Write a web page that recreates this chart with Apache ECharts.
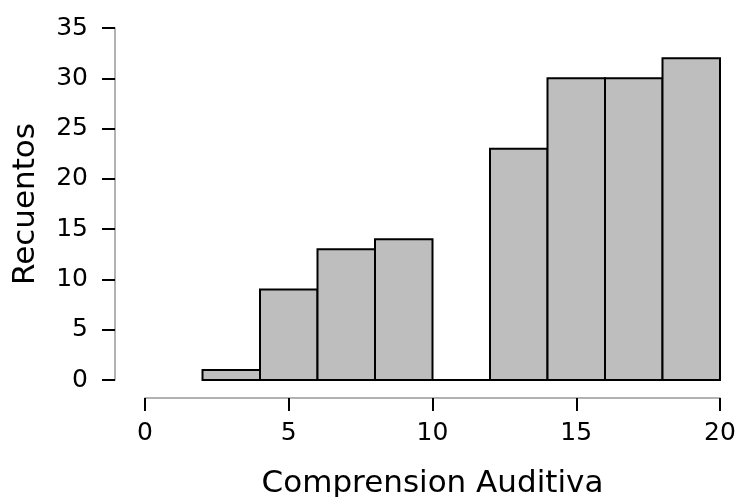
<!DOCTYPE html>
<html>
<head>
<meta charset="utf-8">
<script src="https://cdn.jsdelivr.net/npm/echarts@6/dist/echarts.min.js"></script>
<style>html,body{margin:0;padding:0;background:#fff}#c{width:739px;height:497px}</style>
</head>
<body>
<div id="c"></div>
<script>
var binStarts = [2, 4, 6, 8, 10, 12, 14, 16, 18];
var binEnds   = [4, 6, 8, 10, 12, 14, 16, 18, 20];
var counts    = [1, 9, 13, 14, 0, 23, 30, 30, 32];
var xTicks = [0, 5, 10, 15, 20];
var yTicks = [0, 5, 10, 15, 20, 25, 30, 35];
var xName = 'Comprension Auditiva';
var yName = 'Recuentos';

var data = binStarts.map(function (s, i) { return [s, binEnds[i], counts[i]]; });
var FONT = 'DejaVu Sans';
var chart = echarts.init(document.getElementById('c'), null, {renderer: 'canvas'});
chart.setOption({
  animation: false,
  grid: {left: 145, right: 19, top: 28, bottom: 117, containLabel: false, outerBoundsMode: 'none'},
  xAxis: {
    type: 'value', min: xTicks[0], max: xTicks[xTicks.length - 1], interval: 5,
    offset: 18,
    name: xName, nameLocation: 'middle', nameGap: 70, nameMoveOverlap: false,
    nameTextStyle: {fontFamily: FONT, fontSize: 31, color: '#000'},
    axisLine: {show: true, onZero: false, lineStyle: {color: '#999', width: 1.5}},
    axisTick: {show: true, length: 13, lineStyle: {color: '#000', width: 2}},
    axisLabel: {fontFamily: FONT, fontSize: 25, color: '#000', margin: 23},
    splitLine: {show: false}
  },
  yAxis: {
    type: 'value', min: yTicks[0], max: yTicks[yTicks.length - 1], interval: 5,
    offset: 30,
    name: yName, nameLocation: 'middle', nameGap: 74, nameMoveOverlap: false,
    nameTextStyle: {fontFamily: FONT, fontSize: 31, color: '#000'},
    axisLine: {show: true, onZero: false, lineStyle: {color: '#999', width: 1.5}},
    axisTick: {show: true, length: 13, lineStyle: {color: '#000', width: 2}},
    axisLabel: {fontFamily: FONT, fontSize: 25, color: '#000', margin: 27},
    splitLine: {show: false}
  },
  series: [{
    type: 'custom',
    data: data,
    encode: {x: [0, 1], y: 2},
    renderItem: function (params, api) {
      var p0 = api.coord([api.value(0), api.value(2)]);
      var p1 = api.coord([api.value(1), 0]);
      return {
        type: 'rect',
        shape: {x: p0[0], y: p0[1], width: p1[0] - p0[0], height: p1[1] - p0[1]},
        style: {fill: '#bebebe', stroke: '#000', lineWidth: 2}
      };
    }
  }]
});
</script>
</body>
</html>
